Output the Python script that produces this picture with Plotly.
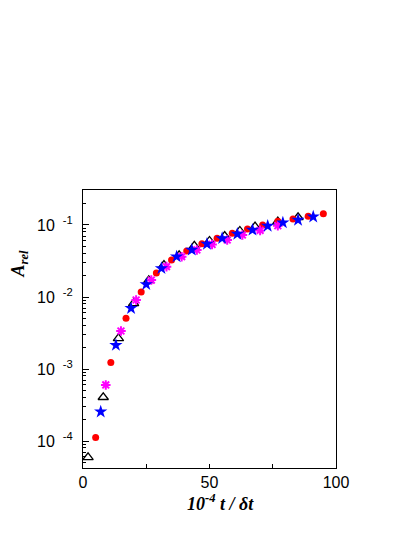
import plotly.graph_objects as go

# ---- data ----
red_x = [5, 11, 17, 23, 29, 35, 41, 47, 53, 59, 65, 71, 77, 83, 89, 95]
red_y = [1.12e-4, 1.23e-3, 5.06e-3, 1.175e-2, 2.16e-2, 3.27e-2, 4.36e-2, 5.51e-2,
         6.53e-2, 7.66e-2, 8.79e-2, 0.100, 0.1125, 0.121, 0.132, 0.1435]

tri_x = [2, 8, 14, 20, 26, 32, 38, 44, 50, 56, 62, 68, 77, 85]
tri_y = [5.94e-5, 4.05e-4, 2.67e-3, 8.17e-3, 1.70e-2, 2.78e-2, 3.80e-2, 5.13e-2,
         6.0e-2, 7.03e-2, 8.26e-2, 9.48e-2, 0.1112, 0.128]

mag_x = [9, 15, 21, 27, 33, 39, 45, 51, 57, 63, 70, 77]
mag_y = [6.0e-4, 3.37e-3, 9.08e-3, 1.72e-2, 2.64e-2, 3.63e-2, 4.50e-2, 5.37e-2,
         6.19e-2, 7.26e-2, 8.41e-2, 9.77e-2]

blue_x = [7, 13, 19, 25, 31, 37, 43, 49, 55, 61, 67, 73, 79, 85, 91]
blue_y = [2.55e-4, 2.15e-3, 6.97e-3, 1.50e-2, 2.50e-2, 3.63e-2, 4.50e-2, 5.45e-2,
          6.53e-2, 7.50e-2, 8.53e-2, 9.68e-2, 0.1076, 0.1172, 0.1303]

x_tickvals = [0, 25, 50, 75, 100]
x_ticktext = ["0", "", "50", "", "100"]
y_tickvals = [1e-4, 1e-3, 1e-2, 1e-1]
y_ticktext = ["10\u2002<sup>-4</sup>", "10\u2002<sup>-3</sup>",
              "10\u2002<sup>-2</sup>", "10\u2002<sup>-1</sup>"]
y_minor = [k * 10.0 ** e for e in range(-5, 0) for k in range(2, 10)]

fig = go.Figure()
fig.add_trace(go.Scatter(x=tri_x, y=tri_y, mode="markers",
                         marker=dict(symbol="triangle-up-open", size=9, color="black",
                                     line=dict(width=1.3, color="black"))))
fig.add_trace(go.Scatter(x=red_x, y=red_y, mode="markers",
                         marker=dict(symbol="circle", size=7, color="#ff0000",
                                     line=dict(width=0))))
fig.add_trace(go.Scatter(x=mag_x, y=mag_y, mode="markers",
                         marker=dict(symbol="asterisk-open", size=8, color="#ff00ff",
                                     line=dict(width=2, color="#ff00ff"))))
fig.add_trace(go.Scatter(x=blue_x, y=blue_y, mode="markers",
                         marker=dict(symbol="star", size=10, color="#0000ff",
                                     line=dict(width=0))))

tickfont = dict(family="Liberation Sans, Arial, sans-serif", size=16, color="black")
titlefont = dict(family="Liberation Serif, Times New Roman, serif", size=18, color="black")

# the page body adds an 8px offset, so the figure is 8px smaller and margins shifted
fig.update_layout(
    width=407, height=529, autosize=False,
    margin=dict(l=75, r=79, t=182, b=69),
    paper_bgcolor="white", plot_bgcolor="white",
    showlegend=False,
    xaxis=dict(range=[0, 100], tickmode="array", tickvals=x_tickvals, ticktext=x_ticktext,
               ticks="inside", ticklen=4, tickwidth=1, tickcolor="black",
               showline=True, linecolor="black", linewidth=1, mirror=True,
               showgrid=False, zeroline=False, tickfont=tickfont, automargin=False),
    yaxis=dict(type="log", range=[-4.375, -0.514], tickmode="array",
               tickvals=y_tickvals, ticktext=y_ticktext,
               ticks="inside", ticklen=6, tickwidth=1, tickcolor="black",
               minor=dict(tickmode="array", tickvals=y_minor, ticks="inside",
                          ticklen=3, tickcolor="black", showgrid=False),
               showline=True, linecolor="black", linewidth=1, mirror=True,
               showgrid=False, zeroline=False, tickfont=tickfont,
               ticklabelstandoff=6, automargin=False),
    annotations=[
        dict(text="<b><i>10<sup>-4</sup> t / \u03b4t</i></b>", xref="paper", yref="paper",
             x=0.545, y=-0.125, xanchor="center", yanchor="middle", showarrow=False,
             font=titlefont),
        dict(text="<b><i>A<sub>rel</sub></i></b>", xref="paper", yref="paper",
             x=-0.25, y=0.735, xanchor="center", yanchor="middle", showarrow=False,
             textangle=-90, font=titlefont),
    ],
)

fig.write_html("out.html")
